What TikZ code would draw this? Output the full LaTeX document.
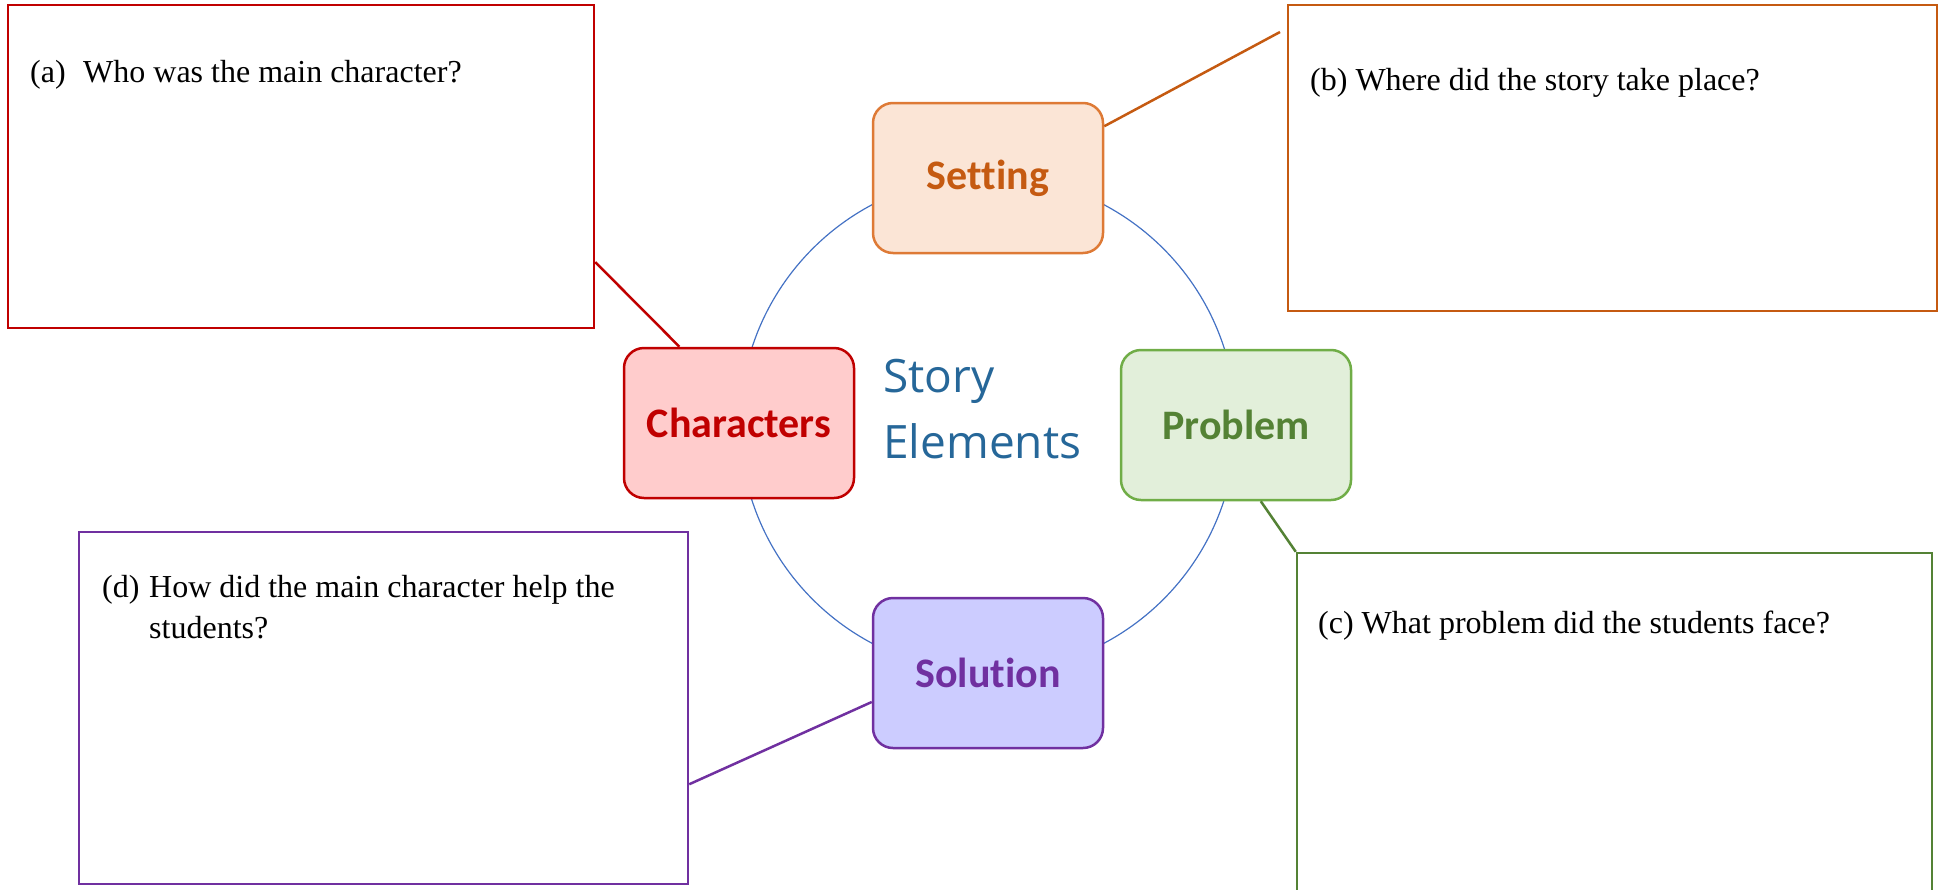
\documentclass[tikz,border=0pt]{standalone}
\usepackage{fontspec}
\setmainfont{Liberation Serif}
\newfontfamily\partfont[Ligatures=NoCommon]{Carlito} % Element labels.
\newfontfamily\hubfont{Open Sans}
\newcommand{\qlabel}[2]{\makebox[#1][l]{#2}} % Question letter.

\definecolor{ring}{HTML}{4472C4}
\definecolor{hubblue}{HTML}{266799}
\definecolor{chline}{HTML}{C00000}
\definecolor{chfill}{HTML}{FFCCCC}
\definecolor{stline}{HTML}{DE7A36}
\definecolor{stfill}{HTML}{FBE5D6}
\definecolor{sttext}{HTML}{C55A11}
\definecolor{prline}{HTML}{70AD47}
\definecolor{prfill}{HTML}{E2EFDA}
\definecolor{prtext}{HTML}{548235}
\definecolor{soline}{HTML}{7030A0}
\definecolor{sofill}{HTML}{CCCCFF}

\begin{document}
\begin{tikzpicture}[x=1pt,y=-1pt,
  part/.style={draw=#1, rounded corners=20pt, line width=2.5pt,
    minimum width=230pt, minimum height=150pt, inner sep=0pt,
    font=\partfont\bfseries\fontsize{42}{50}\selectfont},
  qbox/.style={draw=#1, line width=2.5pt, inner sep=0pt},
  qtext/.style={anchor=base west, inner sep=0pt,
    font=\fontsize{32}{40}\selectfont},
  link/.style={draw=#1, line width=2.5pt}]
\useasboundingbox (0,0) rectangle (1945,889);

% Ring behind the elements.
\coordinate (ctr) at (988,424);
\draw[ring, line width=1.2pt] (ctr) circle (248pt);

\node[part=stline, fill=stfill, text=sttext] (setting) at (988,178) {Setting};
\node[part=chline, fill=chfill, text=chline] (characters) at (739,423) {Characters};
\node[part=prline, fill=prfill, text=prtext] (problem) at (1236,425) {Problem};
\node[part=soline, fill=sofill, text=soline] (solution) at (988,673) {Solution};

\node[anchor=west, align=left, inner sep=0pt, text=hubblue,
  font=\hubfont\fontsize{46}{66}\selectfont] (hub) at (883,409) {Story\\Elements};

% Question boxes.
\node[qbox=chline, minimum width=586pt, minimum height=323pt] (qa) at (301,166.5) {};
\node[qbox=sttext, minimum width=649pt, minimum height=306pt] (qb) at (1612.5,158) {};
\node[qbox=prtext, minimum width=635pt, minimum height=347pt] (qc) at (1614.5,726.5) {};
\node[qbox=soline, minimum width=609pt, minimum height=352pt] (qd) at (383.5,708) {};

\node[qtext] (qa text) at (30,82) {\qlabel{53pt}{(a)}Who was the main character?};
\node[qtext] (qb text) at (1310,90) {(b) Where did the story take place?};
\node[qtext] (qc text) at (1318,633) {(c) What problem did the students face?};
\node[qtext] (qd text) at (102,597) {\qlabel{47pt}{(d)}How did the main character help the};
\node[qtext] (qd more) at (149,638) {students?};

\coordinate (qb end) at (1280,32);
\draw[link=chline] (qa.-18) -- (characters.128);
\draw[link=sttext] (setting.24) -- (qb end);
\draw[link=prtext] (problem.-72) -- (qc.north west);
\draw[link=soline] (solution.194) -- (qd.-14);
\end{tikzpicture}
\end{document}
